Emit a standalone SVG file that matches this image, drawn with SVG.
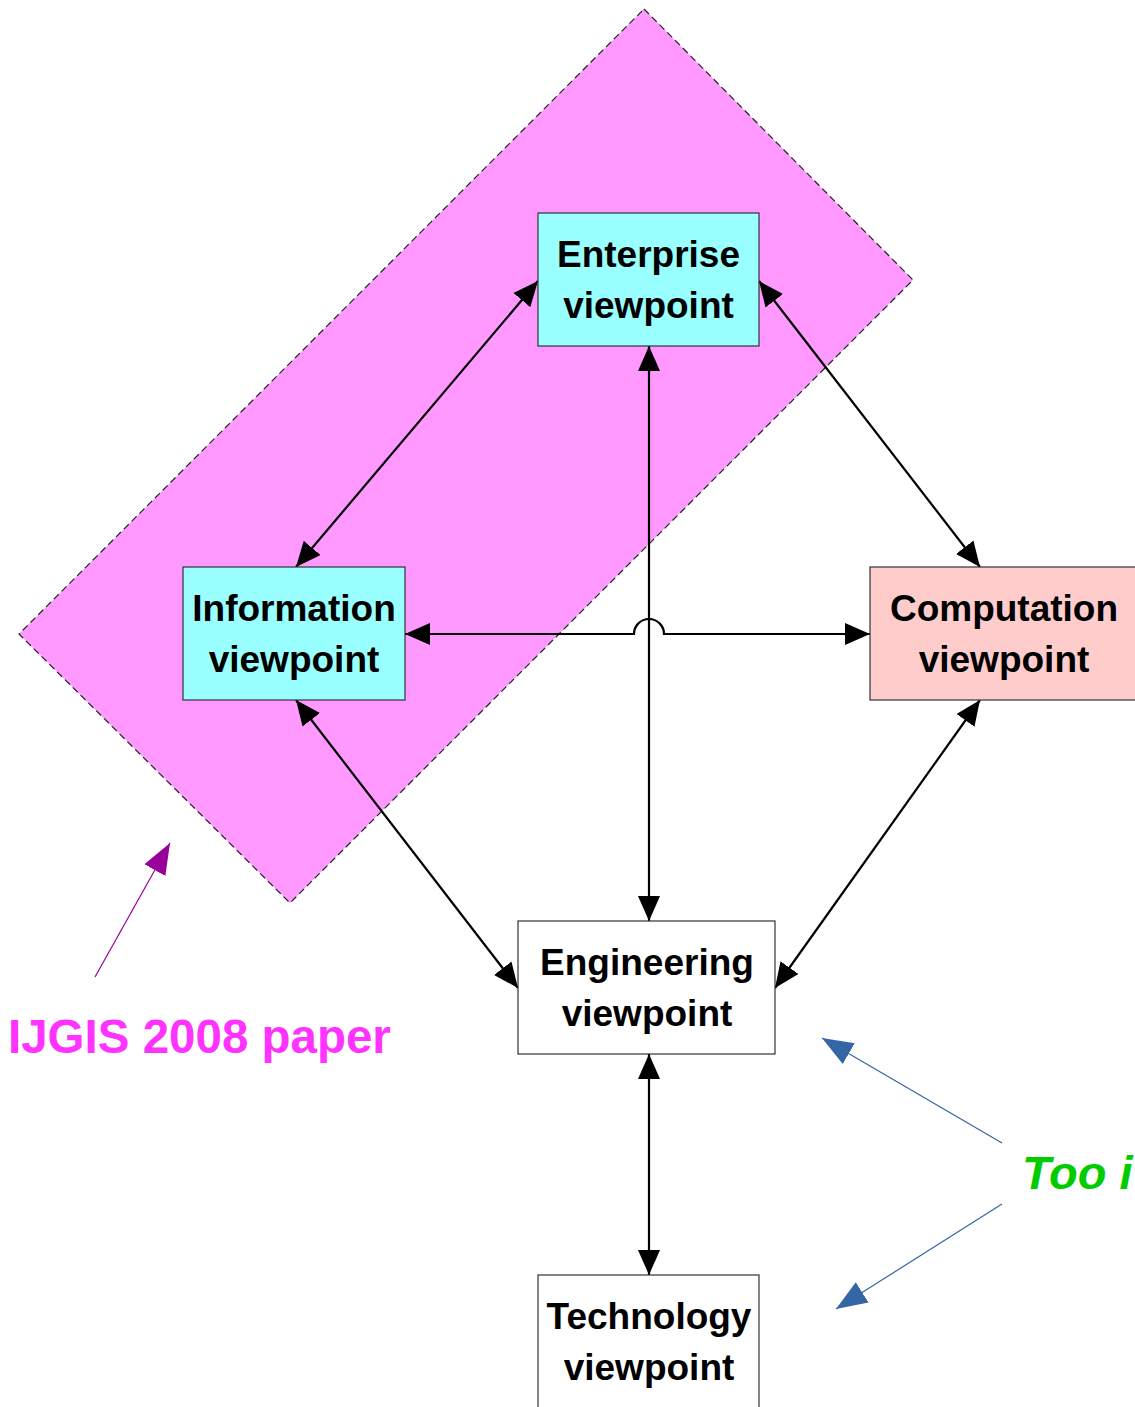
<svg xmlns="http://www.w3.org/2000/svg" width="1135" height="1407" viewBox="0 0 1135 1407">
  <style>
    .box { stroke: #333333; stroke-width: 1.2; }
    .lbl { font-family: "Liberation Sans", Arial, sans-serif; font-weight: bold; font-size: 37px; fill: #000000; text-anchor: middle; }
    .link { fill: none; stroke: #000000; stroke-width: 2.2; }
  </style>
  <defs>
    <marker id="blk" markerUnits="userSpaceOnUse" markerWidth="26" markerHeight="24" refX="25" refY="12" orient="auto-start-reverse">
      <path d="M0,1 L25,12 L0,23 z" fill="#000000"/>
    </marker>
    <marker id="purp" markerUnits="userSpaceOnUse" markerWidth="32" markerHeight="26" refX="31" refY="13" orient="auto">
      <path d="M0,1 L31,13 L0,25 z" fill="#990099"/>
    </marker>
    <marker id="blue" markerUnits="userSpaceOnUse" markerWidth="32" markerHeight="26" refX="31" refY="13" orient="auto">
      <path d="M0,1 L31,13 L0,25 z" fill="#3465a4"/>
    </marker>
  </defs>

  <!-- highlighted area -->
  <polygon id="highlight" points="644,9 913,280 290,903 19,634" fill="#ff99ff" stroke="#222222" stroke-width="1.2" stroke-dasharray="7,4"/>

  <!-- connectors -->
  <g id="connectors">
    <line class="link" x1="538" y1="281" x2="296" y2="567" marker-start="url(#blk)" marker-end="url(#blk)"/>
    <line class="link" x1="759" y1="281" x2="980" y2="567" marker-start="url(#blk)" marker-end="url(#blk)"/>
    <line class="link" x1="649" y1="346" x2="649" y2="921" marker-start="url(#blk)" marker-end="url(#blk)"/>
    <path class="link" d="M405,634 L634,634 A15,15 0 0 1 664,634 L870,634" marker-start="url(#blk)" marker-end="url(#blk)"/>
    <line class="link" x1="296" y1="700" x2="518" y2="988" marker-start="url(#blk)" marker-end="url(#blk)"/>
    <line class="link" x1="980" y1="700" x2="775" y2="988" marker-start="url(#blk)" marker-end="url(#blk)"/>
    <line class="link" x1="649" y1="1054" x2="649" y2="1275" marker-start="url(#blk)" marker-end="url(#blk)"/>
    <line x1="95" y1="977" x2="170" y2="843" stroke="#990099" stroke-width="1.2" marker-end="url(#purp)"/>
    <line x1="1002" y1="1143" x2="822" y2="1038" stroke="#3465a4" stroke-width="1.2" marker-end="url(#blue)"/>
    <line x1="1002" y1="1204" x2="836" y2="1309" stroke="#3465a4" stroke-width="1.2" marker-end="url(#blue)"/>
  </g>

  <!-- viewpoints -->
  <g id="enterprise">
    <rect class="box" x="538" y="213" width="221" height="133" fill="#99ffff"/>
    <text class="lbl" x="648.5" y="267">Enterprise</text>
    <text class="lbl" x="648.5" y="318">viewpoint</text>
  </g>
  <g id="information">
    <rect class="box" x="183" y="567" width="222" height="133" fill="#99ffff"/>
    <text class="lbl" x="294" y="621">Information</text>
    <text class="lbl" x="294" y="672">viewpoint</text>
  </g>
  <g id="computation">
    <rect class="box" x="870" y="567" width="280" height="133" fill="#ffcccc"/>
    <text class="lbl" x="1004" y="621">Computation</text>
    <text class="lbl" x="1004" y="672">viewpoint</text>
  </g>
  <g id="engineering">
    <rect class="box" x="518" y="921" width="257" height="133" fill="#ffffff"/>
    <text class="lbl" x="647" y="975">Engineering</text>
    <text class="lbl" x="647" y="1026">viewpoint</text>
  </g>
  <g id="technology">
    <rect class="box" x="538" y="1275" width="221" height="140" fill="#ffffff"/>
    <text class="lbl" x="649" y="1329">Technology</text>
    <text class="lbl" x="649" y="1380">viewpoint</text>
  </g>

  <!-- annotations -->
  <g id="note-paper">
    <text x="8" y="1053" font-family="'Liberation Sans', Arial, sans-serif" font-weight="bold" font-size="47.5" fill="#ff33ff">IJGIS 2008 paper</text>
  </g>
  <g id="note-too">
    <text x="1022" y="1189" font-family="'Liberation Sans', Arial, sans-serif" font-weight="bold" font-style="italic" font-size="47" fill="#00cc00">Too i</text>
  </g>
</svg>
